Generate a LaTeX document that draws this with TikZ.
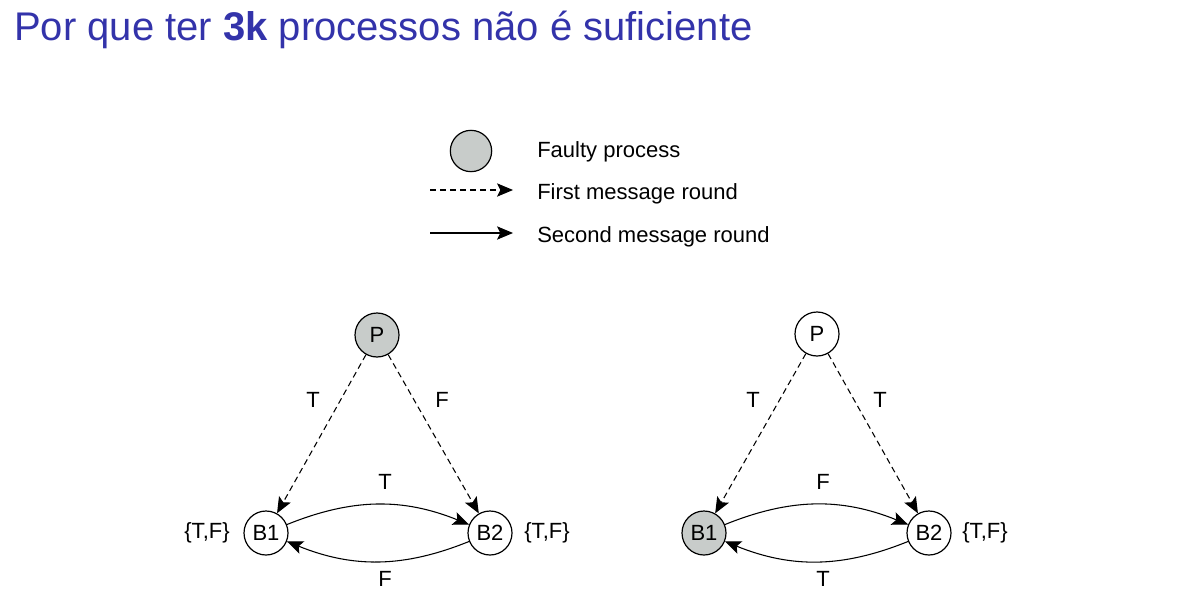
\documentclass[tikz,border=0pt]{standalone}
\usepackage{fontspec}
\setmainfont{Liberation Sans}
\usetikzlibrary{positioning, arrows.meta}
\definecolor{titleblue}{RGB}{51,51,170}
\definecolor{faultgray}{RGB}{200,204,202}

\begin{document}
\begin{tikzpicture}[
    x=0.75pt, y=0.75pt,
    font=\fontsize{16.5}{19}\selectfont,
    proc/.style={draw, circle, line width=0.9pt, minimum size=33pt,
                 inner sep=0pt, fill=white},
    faulty/.style={proc, fill=faultgray},
    msgtip/.style={-{Stealth[length=12pt,width=10pt,inset=2.5pt]}},
    firstmsg/.style={msgtip, line width=0.8pt, dash pattern=on 4.5pt off 3pt},
    secondmsg/.style={msgtip, line width=0.8pt},
    lbl/.style={inner sep=1pt},
  ]
  \useasboundingbox (0,0) rectangle (1184,601);

  % title
  \node[anchor=base west, inner sep=0pt, text=titleblue,
        font=\fontsize{30}{36}\selectfont] (title) at (14,560)
    {Por que ter \textbf{3k} processos não é suficiente};

  % legend
  \node[faulty, minimum size=31pt] (legfault) at (471,450) {};
  \coordinate (dashA) at (430,411);
  \coordinate (dashB) at (513,411);
  \coordinate (solA) at (430,368);
  \coordinate (solB) at (513,368);
  \draw[firstmsg] (dashA) -- (dashB);
  \draw[secondmsg] (solA) -- (solB);
  \node[anchor=west, inner sep=0pt] (legfaulttxt) at (537,449) {Faulty process};
  \node[anchor=west, inner sep=0pt] (legfirst) at (537,407) {First message round};
  \node[anchor=west, inner sep=0pt] (legsecond) at (537,364) {Second message round};

  % left: faulty commander
  \node[faulty] (pL) at (377,266) {P};
  \node[proc] (b1L) at (266,68) {B1};
  \node[proc] (b2L) at (490,68) {B2};
  \draw[firstmsg] (pL) -- (b1L);
  \draw[firstmsg] (pL) -- (b2L);
  \draw[secondmsg] (b1L) to[bend left=22] (b2L);
  \draw[secondmsg] (b2L) to[bend left=22] (b1L);
  \node[lbl] (tL1) at (313,201) {T};
  \node[lbl] (fL1) at (442,201) {F};
  \node[lbl] (tL2) at (385,119) {T};
  \node[lbl] (fL2) at (385,22) {F};
  \node[lbl] (setL1) at (207,68) {\{T,F\}};
  \node[lbl] (setL2) at (547,68) {\{T,F\}};

  % right: faulty lieutenant
  \node[proc] (pR) at (817,267) {P};
  \node[faulty] (b1R) at (704,68) {B1};
  \node[proc] (b2R) at (929,68) {B2};
  \draw[firstmsg] (pR) -- (b1R);
  \draw[firstmsg] (pR) -- (b2R);
  \draw[secondmsg] (b1R) to[bend left=22] (b2R);
  \draw[secondmsg] (b2R) to[bend left=22] (b1R);
  \node[lbl] (tR1) at (753,201) {T};
  \node[lbl] (tR2) at (880,201) {T};
  \node[lbl] (fR1) at (823,119) {F};
  \node[lbl] (tR3) at (823,22) {T};
  \node[lbl] (setR) at (985,68) {\{T,F\}};
\end{tikzpicture}
\end{document}
